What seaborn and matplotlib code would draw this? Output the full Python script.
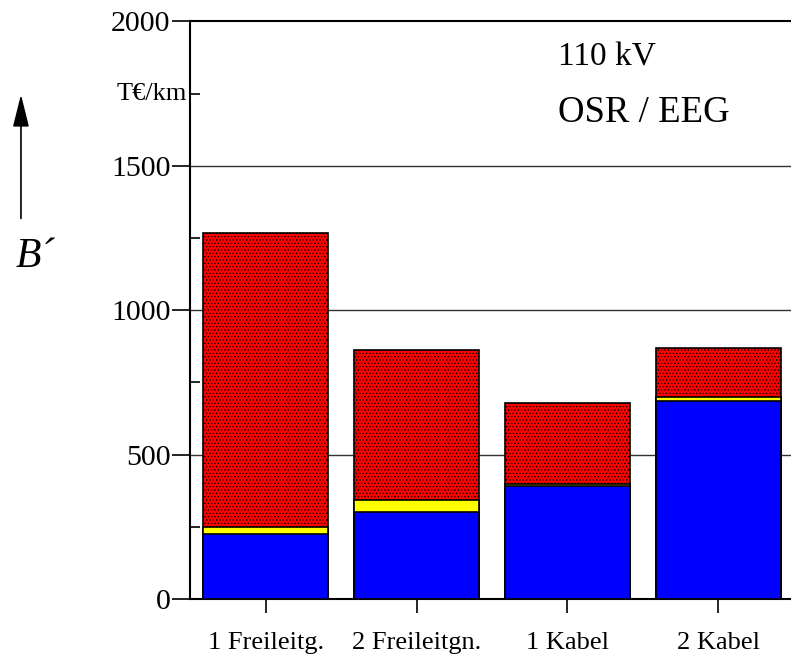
import matplotlib
matplotlib.use("Agg")
import matplotlib.pyplot as plt
import seaborn as sns
import numpy as np
import pandas as pd

# Cost components per variant (T€/km)
kategorien = ["1 Freileitg.", "2 Freileitgn.", "1 Kabel", "2 Kabel"]
anteil_blau = [225, 300, 391, 685]
anteil_gelb = [24, 43, 7, 14]
anteil_rot = [1017, 519, 280, 169]

sns.set_theme(style="white")
plt.rcParams["font.family"] = ["Liberation Serif", "DejaVu Serif"]
plt.rcParams["text.color"] = "black"
plt.rcParams["axes.labelcolor"] = "black"
plt.rcParams["xtick.color"] = "black"
plt.rcParams["ytick.color"] = "black"
plt.rcParams["hatch.color"] = "black"
plt.rcParams["hatch.linewidth"] = 0.6

blau = np.array(anteil_blau)
gelb_oben = blau + np.array(anteil_gelb)
rot_oben = gelb_oben + np.array(anteil_rot)

df = pd.DataFrame({"kat": kategorien, "blau": blau,
                   "gelb": gelb_oben, "rot": rot_oben})

fig = plt.figure(figsize=(7.91, 6.66), dpi=100)
ax = fig.add_axes([0.2402, 0.1006, 0.7598, 0.8674])

# stacked layers drawn as overlapping cumulative bars
layers = [("rot", "#ff0000", "....."), ("gelb", "#ffff00", None), ("blau", "#0000ff", None)]
for col, farbe, muster in layers:
    sns.barplot(data=df, x="kat", y=col, color=farbe, width=0.83,
                edgecolor="black", linewidth=1.2, hatch=muster,
                saturation=1, ax=ax, zorder=3)

ax.set_ylim(0, 2000)
ax.set_xlim(-0.504, 3.484)
ax.set_yticks([0, 500, 1000, 1500, 2000])
ax.set_yticks([250, 750, 1250, 1750], minor=True)
ax.set_yticklabels(["0", "500", "1000", "1500", "2000"], fontsize=21.5)
ax.set_xticks(range(4))
ax.set_xticklabels(kategorien, fontsize=19)
ax.set_xlabel("")
ax.set_ylabel("")

for y in (500, 1000, 1500):
    ax.axhline(y, color="#333333", linewidth=1.0, zorder=1)
ax.axhline(2000, color="black", linewidth=1.5, zorder=1, clip_on=False)

for s in ("top", "right"):
    ax.spines[s].set_visible(False)
for s in ("left", "bottom"):
    ax.spines[s].set_color("black")
    ax.spines[s].set_linewidth(1.5)

ax.tick_params(axis="y", which="major", direction="out", length=13, width=1.2,
               left=True, pad=1)
ax.tick_params(axis="y", which="minor", direction="in", length=7, width=1.2,
               left=True)
ax.tick_params(axis="x", which="major", direction="out", length=10, width=1.2,
               bottom=True, pad=14)

# unit label next to the 1750 minor tick
ax.text(-0.005, 1750, "T€/km", transform=ax.get_yaxis_transform(),
        ha="right", va="center", fontsize=19)

ax.text(0.613, 0.937, "110 kV", transform=ax.transAxes, fontsize=24,
        ha="left", va="center")
ax.text(0.613, 0.842, "OSR / EEG", transform=ax.transAxes, fontsize=26.5,
        ha="left", va="center")

# quantity symbol with upward arrow
fig.text(0.044, 0.615, "B´", fontsize=30, style="italic", ha="center", va="center")
fig.add_artist(matplotlib.patches.FancyArrowPatch(
    (0.0265, 0.672), (0.0265, 0.858), transform=fig.transFigure,
    arrowstyle="-|>,head_length=20,head_width=5", color="black", linewidth=1.2,
    mutation_scale=1, shrinkA=0, shrinkB=0))

fig.savefig("out.png", dpi=100)
